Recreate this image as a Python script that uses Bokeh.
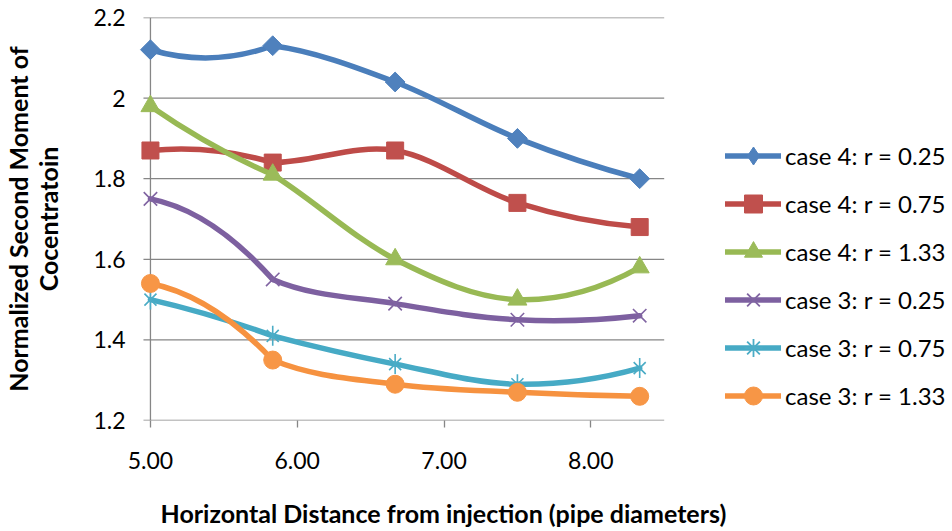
import numpy as np
from bokeh.plotting import figure
from bokeh.models import (Range1d, FixedTicker, NumeralTickFormatter, Legend,
                          LegendItem, Title)
from bokeh.embed import file_html
from bokeh.resources import INLINE

# ---------------- data ----------------
x_vals = [5.0, 5.833, 6.667, 7.5, 8.333]
case4_r025 = [2.12, 2.13, 2.04, 1.90, 1.80]
case4_r075 = [1.87, 1.84, 1.87, 1.74, 1.68]
case4_r133 = [1.98, 1.81, 1.60, 1.50, 1.58]
case3_r025 = [1.75, 1.55, 1.49, 1.45, 1.46]
case3_r075 = [1.50, 1.41, 1.34, 1.29, 1.33]
case3_r133 = [1.54, 1.35, 1.29, 1.27, 1.26]
series_labels = ["case 4: r = 0.25", "case 4: r = 0.75", "case 4: r = 1.33",
                 "case 3: r = 0.25", "case 3: r = 0.75", "case 3: r = 1.33"]
x_ticks = [5, 6, 7, 8]
y_ticks = [1.2, 1.4, 1.6, 1.8, 2.0, 2.2]
x_axis_min, x_axis_max = 5.0, 8.5
y_axis_min, y_axis_max = 1.2, 2.2
x_title = "Horizontal Distance from injection (pipe diameters)"
y_title = "Normalized Second Moment of\nCocentratoin"

series_values = [case4_r025, case4_r075, case4_r133, case3_r025, case3_r075, case3_r133]

# ---------------- layout (pixels) ----------------
W, H = 952, 531
AXIS_LEFT_PX, AXIS_RIGHT_PX = 148, 663      # where x = 5 and x = 8.5 fall
FRAME_LEFT_PX = 128                         # frame starts a little left so markers are not clipped
TOP_PX, BOTTOM_PX = 17, 420
px_per_unit = (AXIS_RIGHT_PX - AXIS_LEFT_PX) / (x_axis_max - x_axis_min)
x_start = x_axis_min - (AXIS_LEFT_PX - FRAME_LEFT_PX) / px_per_unit
x_end = x_axis_min + (W - AXIS_LEFT_PX) / px_per_unit
tick_len = 7 / px_per_unit

# ---------------- styles ----------------
GRID = "#868686"
FONT = "Lato"
styles = [
    dict(line="#4A7EBB", mark="#4F81BD", markers=[("square", 14, np.pi / 4, 1)], leg="diamond"),
    dict(line="#BE4B48", mark="#C0504D", markers=[("square", 17, 0, 1)], leg="square"),
    dict(line="#98B954", mark="#9BBB59", markers=[("triangle", 19, 0, 1)], leg="triangle"),
    dict(line="#7D60A0", mark="#8064A2", markers=[("x", 19, 0, 1.6)], leg="x"),
    dict(line="#46AAC5", mark="#4BACC6", markers=[("x", 17, 0, 1.6), ("dash", 20, np.pi / 2, 1.6)], leg="asterisk"),
    dict(line="#F69240", mark="#F79646", markers=[("circle", 18, 0, 1)], leg="circle"),
]


def smooth_bezier(xs, ys):
    """Bezier control points of a smoothed line through the data points."""
    P = np.column_stack([xs, ys]).astype(float)
    n = len(P)
    out = {k: [] for k in ("x0", "y0", "x1", "y1", "cx0", "cy0", "cx1", "cy1")}
    for i in range(n - 1):
        a, b = P[i], P[i + 1]
        if i == 0:
            q = a + (P[2] - P[1]) / 2.0
            c0 = a + 2.0 / 3.0 * (q - a)
            c1 = b + 2.0 / 3.0 * (q - b)
        elif i == n - 2:
            t = (P[i + 1] - P[i - 1]) / 2.0
            q = a + t / 2.0
            c0 = a + 2.0 / 3.0 * (q - a)
            c1 = b + 2.0 / 3.0 * (q - b)
        else:
            c0 = a + (P[i + 1] - P[i - 1]) / 6.0
            c1 = b - (P[i + 2] - P[i]) / 6.0
        for k, v in (("x0", a[0]), ("y0", a[1]), ("x1", b[0]), ("y1", b[1]),
                     ("cx0", c0[0]), ("cy0", c0[1]), ("cx1", c1[0]), ("cy1", c1[1])):
            out[k].append(v)
    return out


p = figure(width=W, height=H, title=None,
           x_range=Range1d(x_start, x_end), y_range=Range1d(y_axis_min, y_axis_max),
           output_backend="svg", toolbar_location=None,
           min_border_left=FRAME_LEFT_PX, min_border_right=0,
           min_border_top=TOP_PX, min_border_bottom=H - BOTTOM_PX)
p.background_fill_color = "white"
p.border_fill_color = "white"
p.outline_line_color = None
p.xgrid.grid_line_color = None
p.ygrid.grid_line_color = None

# axes (tick labels / titles come from the real axes)
for ax in (p.xaxis[0], p.yaxis[0]):
    ax.axis_line_color = None
    ax.major_tick_line_color = GRID
    ax.major_tick_line_width = 1.3
    ax.major_tick_in = 0
    ax.minor_tick_line_color = None
    ax.major_label_text_font = FONT
    ax.major_label_text_font_size = "23px"
    ax.major_label_text_color = "black"
    ax.axis_label_text_font = FONT
    ax.axis_label_text_font_style = "bold"
    ax.axis_label_text_font_size = "25px"
    ax.axis_label_text_color = "black"

p.xaxis.ticker = FixedTicker(ticks=x_ticks)
p.xaxis.formatter = NumeralTickFormatter(format="0.00")
p.xaxis.major_tick_out = 7
p.xaxis.major_label_standoff = 24

p.yaxis.ticker = FixedTicker(ticks=y_ticks)
p.yaxis.formatter = NumeralTickFormatter(format="0.[0]")
p.yaxis.major_tick_out = 0
p.yaxis.major_label_standoff = 5
p.yaxis.axis_label = y_title
p.yaxis.axis_label_standoff = 27
p.yaxis.axis_label_text_line_height = 1.0

# gridlines, y axis line and y ticks at the data-axis position
n_y = len(y_ticks)
p.segment(x0=[x_axis_min] * n_y, y0=y_ticks, x1=[x_axis_max] * n_y, y1=y_ticks,
          line_color=GRID, line_width=1.3)
p.segment(x0=[x_axis_min], y0=[y_axis_min], x1=[x_axis_min], y1=[y_axis_max],
          line_color=GRID, line_width=1.3)
p.segment(x0=[x_axis_min - tick_len] * n_y, y0=y_ticks, x1=[x_axis_min] * n_y, y1=y_ticks,
          line_color=GRID, line_width=1.3)

items = []
for vals, st, lab in zip(series_values, styles, series_labels):
    bz = smooth_bezier(x_vals, vals)
    p.bezier(x0="x0", y0="y0", x1="x1", y1="y1", cx0="cx0", cy0="cy0",
             cx1="cx1", cy1="cy1", source=bz, line_color=st["line"],
             line_width=5.5, line_cap="round")
    for (mk, size, ang, lw) in st["markers"]:
        filled = mk in ("square", "triangle", "circle")
        p.scatter(x=x_vals, y=vals, marker=mk, size=size, angle=ang,
                  fill_color=st["mark"] if filled else None,
                  line_color=st["mark"], line_width=lw)
    # legend-only renderers (no visible data)
    leg_line = p.line(x=[np.nan], y=[np.nan], line_color=st["line"], line_width=5.5, line_cap="round")
    filled = st["leg"] in ("diamond", "square", "triangle", "circle")
    leg_mark = p.scatter(x=[np.nan], y=[np.nan], marker=st["leg"],
                         fill_color=st["mark"] if filled else None,
                         line_color=st["mark"], line_width=1 if filled else 1.8)
    items.append(LegendItem(label=lab, renderers=[leg_line, leg_mark]))

legend = Legend(items=items, location=(723 - FRAME_LEFT_PX, 2.5))
legend.background_fill_alpha = 0
legend.border_line_alpha = 0
legend.padding = 0
legend.margin = 0
legend.spacing = 3
legend.glyph_width = 56
legend.glyph_height = 45
legend.label_height = 45
legend.label_standoff = 4
legend.label_text_font = FONT
legend.label_text_font_size = "24px"
legend.label_text_color = "black"
p.add_layout(legend)

# x-axis title: left-aligned where the reference has it; the leading empty line
# pushes the text down to the bottom of the chart
p.add_layout(Title(text="\n" + x_title, align="left", offset=158 - FRAME_LEFT_PX,
                   vertical_align="bottom", standoff=0, text_font=FONT,
                   text_font_style="bold", text_font_size="25px", text_color="black",
                   text_line_height=0.8),
             "below")

open("out.html", "w").write(file_html(p, INLINE))
